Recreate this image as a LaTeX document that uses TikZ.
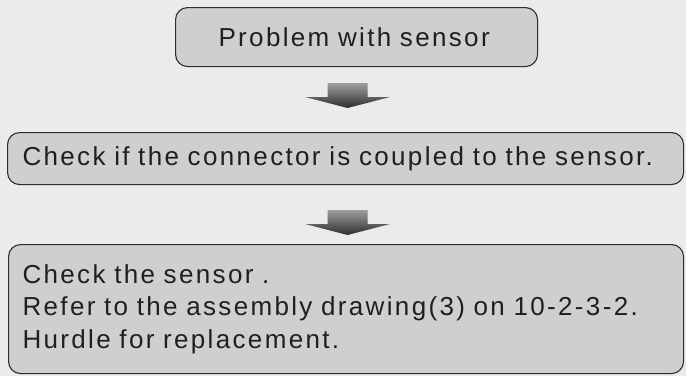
\documentclass[tikz,border=0pt]{standalone}
\usepackage{fontspec}
\setmainfont{Liberation Sans}[LetterSpace=9]
\usetikzlibrary{calc,positioning}

\begin{document}
\begin{tikzpicture}[x=1pt,y=1pt,
    box/.style={draw=black!82, line width=1.1pt, rounded corners=12pt, fill=black!19,
        align=left, anchor=north west, inner ysep=0pt, text=black!88,
        font=\fontsize{26}{32.5}\selectfont},
    blockarrow/.style={top color=black!38, bottom color=black!82}]
    \fill[black!8] (0,0) rectangle (686,-376);
    \useasboundingbox (0,0) rectangle (686,-376);
    \node[box, minimum height=59pt, inner xsep=43pt, text width=276pt] (prob) at (175,-7) {Problem with sensor};
    \node[box, minimum height=52pt, inner xsep=15pt, text width=646pt] (check) at (7,-132) {Check if the connector is coupled to the sensor.};
    \node[box, minimum height=129pt, inner xsep=14pt, text width=647pt] (sensor) at (8,-244)
        {Check the sensor .\\Refer to the assembly drawing(3) on 10-2-3-2.\\Hurdle for replacement.};
    \coordinate (a1) at ($(check.north)+(2,36.5)$);
    \coordinate (a2) at ($(sensor.north)+(1.5,21.5)$);
    \shade[blockarrow, shift={(a1)}] (-20,12.5)--(20,12.5)--(20,-1.5)--(42.5,-1.5)--(0,-12.5)--(-42.5,-1.5)--(-20,-1.5)--cycle;
    \shade[blockarrow, shift={(a2)}] (-20,12.5)--(20,12.5)--(20,-1.5)--(42.5,-1.5)--(0,-12.5)--(-42.5,-1.5)--(-20,-1.5)--cycle;
\end{tikzpicture}
\end{document}
